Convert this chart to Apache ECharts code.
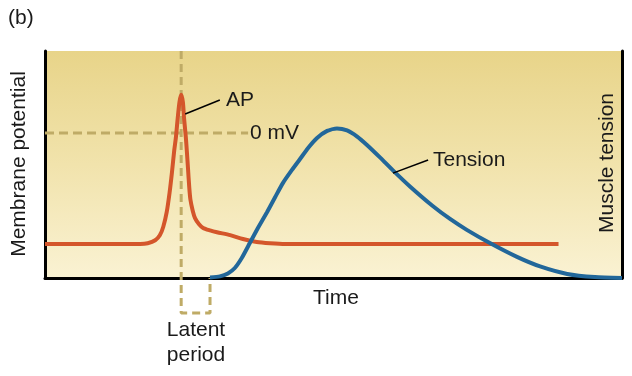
<!DOCTYPE html>
<html>
<head>
<meta charset="utf-8">
<script src="https://cdn.jsdelivr.net/npm/echarts@6/dist/echarts.min.js"></script>
<style>
html,body{margin:0;padding:0;background:#fff;}
#chart{width:632px;height:376px;}
</style>
</head>
<body>
<div id="chart"></div>
<script>
// Time axis in arbitrary units (0..100)
const timeRange = [0, 100];
// Membrane potential axis (mV)
const mvRange = [-117.6, 66.5];
// Muscle tension axis (arbitrary units)
const tensionRange = [0, 100];

// Action potential: [time, mV]
const apData = [
  [0,-90],[16.5,-90],[17.8,-89.4],[19.1,-87],[19.9,-83],[20.5,-76],[21.1,-64],[21.6,-48],
  [22.0,-32],[22.4,-14],[22.7,-3],[23.0,12],[23.3,25],[23.6,31],[23.9,25],[24.1,12],
  [24.4,-3],[24.6,-16],[24.8,-30],[25.0,-44],[25.2,-54],[25.6,-63],[26.0,-69],[26.7,-74],
  [27.4,-77],[28.6,-79],[29.8,-80.5],[32.1,-82.8],[34.3,-86],[36.7,-88.4],[39,-89.4],
  [41.6,-90],[89,-90]
];

// Muscle tension: [time, tension]
const tensionData = [
  [28.6,0.2],[30.3,0.7],[31.7,2.0],[32.9,4.4],[34.1,8.8],[35.5,15.4],[36.9,22.0],
  [38.5,29.1],[39.9,35.7],[41.25,41.9],[42.8,47.6],[44.2,52.4],[45.6,57.3],[47.15,61.7],
  [48.9,64.8],[50.6,65.9],[52.35,65.0],[54.1,62.3],[55.8,58.6],[58.1,53.0],[60.3,47.4],
  [63.3,40.2],[67.2,31.7],[70.2,26.0],[73.1,21.2],[77.1,15.4],[81.8,9.3],[85.8,5.1],
  [90.5,1.8],[95.3,0.4],[100,0]
];

// Reference guide lines
const apTime = 23.6;          // time of AP peak
const tensionStart = 28.6;    // time tension begins
const zeroMv = 0;
const zeroLineEnd = 35.2;
const bracketLevel = -146;    // below the time axis (mV scale)

// Leader lines for labels
const apLeader = [[24.3,15.4],[30.3,26.8]];
const tensionLeader = [[60.3,46.2],[66.4,52]];

const FONT = '"Liberation Sans", Arial, Helvetica, sans-serif';
const TXT = '#1a1a1a';
const DASH = '#bfab66';

const chart = echarts.init(document.getElementById('chart'));

function txt(text, x, y, align, rot) {
  return {
    type: 'text', x: x, y: y, rotation: rot || 0,
    style: { text: text, font: '21px ' + FONT, fill: TXT, align: align || 'left', verticalAlign: 'middle' }
  };
}

chart.setOption({
  animation: false,
  backgroundColor: '#ffffff',
  grid: {
    left: 45, right: 10, top: 51, bottom: 98, show: true, borderWidth: 0,
    backgroundColor: {
      type: 'linear', x: 0, y: 0, x2: 0, y2: 1,
      colorStops: [
        { offset: 0, color: '#e8d489' },
        { offset: 0.5, color: '#f1e3ac' },
        { offset: 1, color: '#faf2d3' }
      ]
    }
  },
  xAxis: {
    type: 'value', min: timeRange[0], max: timeRange[1],
    axisLine: { show: true, onZero: false, lineStyle: { color: '#000', width: 3 } },
    axisTick: { show: false }, axisLabel: { show: false }, splitLine: { show: false }
  },
  yAxis: [
    {
      type: 'value', min: mvRange[0], max: mvRange[1], position: 'left',
      axisLine: { show: true, onZero: false, lineStyle: { color: '#000', width: 3 } },
      axisTick: { show: false }, axisLabel: { show: false }, splitLine: { show: false }
    },
    {
      type: 'value', min: tensionRange[0], max: tensionRange[1], position: 'right',
      axisLine: { show: true, onZero: false, lineStyle: { color: '#000', width: 3 } },
      axisTick: { show: false }, axisLabel: { show: false }, splitLine: { show: false }
    }
  ],
  series: [
    {
      type: 'line', yAxisIndex: 0, clip: false, symbol: 'none', silent: true,
      data: [[apTime, mvRange[1]], [apTime, bracketLevel], [tensionStart, bracketLevel], [tensionStart, mvRange[0]]],
      lineStyle: { color: DASH, width: 3, type: [8, 5] }
    },
    {
      type: 'line', yAxisIndex: 0, symbol: 'none', silent: true,
      data: [[timeRange[0], zeroMv], [zeroLineEnd, zeroMv]],
      lineStyle: { color: DASH, width: 3, type: [9, 5] }
    },
    {
      type: 'line', yAxisIndex: 0, symbol: 'none', silent: true, smooth: 0.25,
      data: apData,
      lineStyle: { color: '#d4562b', width: 4 }
    },
    {
      type: 'line', yAxisIndex: 1, symbol: 'none', silent: true, smooth: 0.2,
      data: tensionData,
      lineStyle: { color: '#22679a', width: 4 }
    },
    {
      type: 'line', yAxisIndex: 0, symbol: 'none', silent: true,
      data: apLeader, lineStyle: { color: '#000', width: 1.5 }
    },
    {
      type: 'line', yAxisIndex: 1, symbol: 'none', silent: true,
      data: tensionLeader, lineStyle: { color: '#000', width: 1.5 }
    }
  ],
  graphic: [
    txt('(b)', 8, 18, 'left'),
    txt('AP', 226, 100, 'left'),
    txt('0 mV', 250, 133, 'left'),
    txt('Tension', 433, 160, 'left'),
    txt('Time', 336, 298, 'center'),
    txt('Latent', 196, 330, 'center'),
    txt('period', 196, 355, 'center'),
    txt('Membrane potential', 19, 164, 'center', Math.PI / 2),
    txt('Muscle tension', 607, 163, 'center', Math.PI / 2)
  ]
});
</script>
</body>
</html>
